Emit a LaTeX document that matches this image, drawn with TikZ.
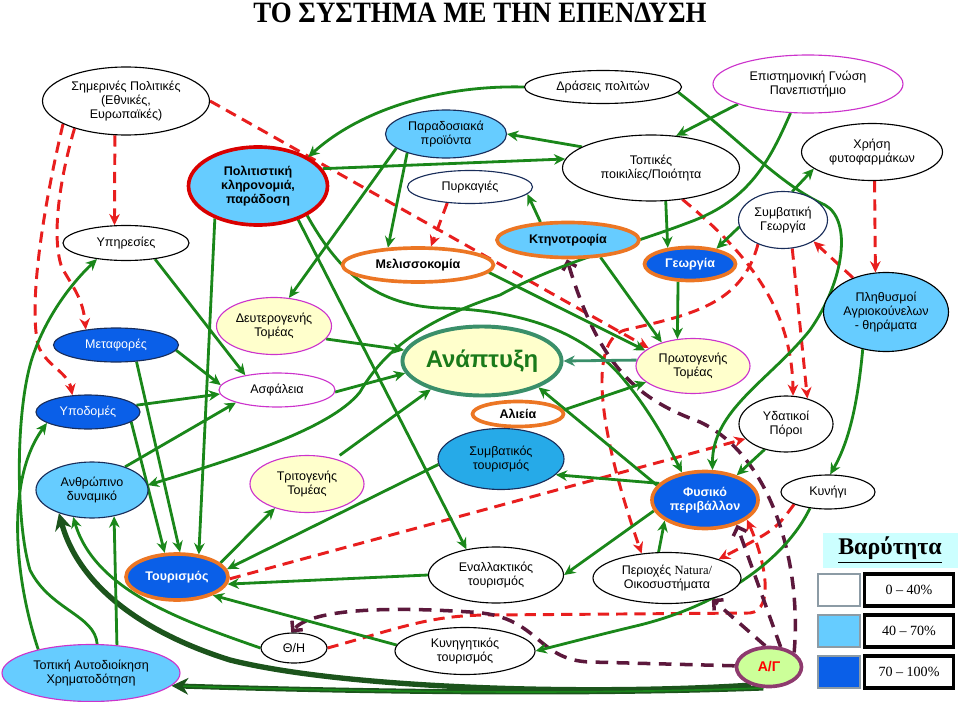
\documentclass[tikz,border=0pt]{standalone}
\usepackage{fontspec}
\setmainfont{Liberation Serif}
\setsansfont{Liberation Sans}
\usetikzlibrary{shapes.geometric,arrows.meta,backgrounds}

\definecolor{grn}{RGB}{26,135,26}
\definecolor{dgrn}{RGB}{28,84,28}
\definecolor{rdash}{RGB}{232,30,30}
\definecolor{purp}{RGB}{92,24,60}
\definecolor{sky}{RGB}{102,204,255}
\definecolor{deepsky}{RGB}{38,170,232}
\definecolor{royal}{RGB}{10,95,232}
\definecolor{navy}{RGB}{25,45,90}
\definecolor{orng}{RGB}{236,118,36}
\definecolor{cream}{RGB}{255,255,204}
\definecolor{mgnt}{RGB}{204,51,204}
\definecolor{anacol}{RGB}{58,143,106}
\definecolor{anatext}{RGB}{26,122,26}
\definecolor{agfill}{RGB}{204,255,153}
\definecolor{agdraw}{RGB}{142,58,110}
\definecolor{legcyan}{RGB}{204,255,255}
\definecolor{swgray}{RGB}{140,155,165}

\newcommand*{\pxu}{0.025cm}

\begin{document}
\begin{tikzpicture}
[
	x=\pxu, y=-\pxu,
	ell/.style={ellipse,draw=black,line width=0.8pt,fill=white,inner sep=0pt,align=center,font=\sffamily\fontsize{8.9}{10}\selectfont},
	sz/.style 2 args={minimum width=#1*\pxu,minimum height=#2*\pxu},
	skyell/.style={ell,fill=sky,draw=navy},
	blueell/.style={ell,fill=royal,draw=navy,text=white},
	creamell/.style={ell,fill=cream,draw=mgnt},
	ringorng/.style={draw=orng,line width=2.6pt,font=\sffamily\bfseries\fontsize{8.9}{10}\selectfont},
	grnarr/.style={draw=grn,line width=2pt,-{Stealth[length=8pt,width=7.5pt]}},
	thickarr/.style={draw=dgrn,line width=3.8pt,-{Stealth[length=12pt,width=12pt]}},
	dblarr/.style={draw=dgrn,double=grn,double distance=1.2pt,line width=1.2pt,-{Stealth[length=12pt,width=12pt]}},
	reddash/.style={draw=rdash,line width=2.1pt,dash pattern=on 8pt off 5pt,-{Stealth[length=8pt,width=7.5pt]}},
	purpdash/.style={draw=purp,line width=2.5pt,dash pattern=on 9pt off 6pt,-{Straight Barb[length=5pt,width=10pt]}},
	swatch/.style={draw=swgray,line width=2pt,minimum width=42*\pxu,minimum height=32*\pxu,inner sep=0pt},
	legbox/.style={draw=black,line width=2.4pt,fill=white,minimum width=89*\pxu,minimum height=32*\pxu,inner sep=0pt,font=\rmfamily\fontsize{10}{12}\selectfont}
]

	\useasboundingbox (0,0) rectangle (960,702);

	% title
	\node (title) at (480,13) {\fontsize{21}{24}\selectfont\bfseries\scalebox{0.91}[1]{ΤΟ ΣΥΣΤΗΜΑ ΜΕ ΤΗΝ ΕΠΕΝΔΥΣΗ}};

	% top rows
	\node[ell,sz={167}{68}] (pol) at (126,101) {Σημερινές Πολιτικές\\(Εθνικές,\\Ευρωπαϊκές)};
	\node[ell,sz={126}{35}] (ypi) at (126,243) {Υπηρεσίες};
	\node[skyell,draw=red!85!black,line width=2.6pt,font=\sffamily\bfseries\fontsize{8.9}{10}\selectfont,sz={139}{78}] (pk) at (258,186) {Πολιτιστική\\κληρονομιά,\\παράδοση};
	\node[skyell,sz={121}{48}] (par) at (446,134) {Παραδοσιακά\\προϊόντα};
	\node[ell,draw=navy,sz={125}{33}] (pyr) at (470,187) {Πυρκαγιές};
	\node[ell,sz={157}{33}] (dra) at (603,87) {Δράσεις πολιτών};
	\node[ell,draw=mgnt,sz={190}{58}] (epi) at (808,84) {Επιστημονική Γνώση\\Πανεπιστήμιο};
	\node[ell,sz={177}{66}] (top) at (651,168) {Τοπικές\\ποικιλίες/Ποιότητα};
	\node[ell,sz={141}{57}] (xri) at (872,152) {Χρήση\\φυτοφαρμάκων};
	\node[ell,draw=navy,sz={89}{57}] (sge) at (783,220) {Συμβατική\\Γεωργία};
	\node[skyell,ringorng,sz={142}{35}] (ktn) at (568,240) {Κτηνοτροφία};
	\node[ell,ringorng,sz={151}{34}] (mel) at (418,265) {Μελισσοκομία};
	\node[blueell,ringorng,sz={91}{33}] (geo) at (690,264) {Γεωργία};
	\node[skyell,draw=black,sz={125}{79}] (plh) at (886,312) {Πληθυσμοί\\Αγριοκούνελων\\- θηράματα};

	% middle rows
	\node[blueell,sz={125}{34}] (met) at (116,345) {Μεταφορές};
	\node[creamell,sz={115}{57}] (deu) at (274,326) {Δευτερογενής\\Τομέας};
	\node[ell,draw=mgnt,sz={116}{34}] (asf) at (277,390) {Ασφάλεια};
	\node[ell,fill=cream,draw=anacol,line width=2.8pt,text=anatext,font=\sffamily\bfseries\fontsize{17}{20}\selectfont,sz={157}{69}] (ana) at (482,361) {Ανάπτυξη};
	\node[creamell,sz={114}{55}] (prw) at (693,366) {Πρωτογενής\\Τομέας};
	\node[blueell,sz={104}{34}] (ypo) at (88,412) {Υποδομές};
	\node[ell,ringorng,sz={91}{25}] (ali) at (518,414) {Αλιεία};
	\node[ell,fill=deepsky,draw=navy,sz={126}{61}] (stu) at (501,459) {Συμβατικός\\τουρισμός};
	\node[ell,sz={94}{56}] (yda) at (786,424) {Υδατικοί\\Πόροι};
	\node[skyell,sz={112}{56}] (anth) at (92,490) {Ανθρώπινο\\δυναμικό};
	\node[creamell,sz={114}{57}] (tri) at (307,484) {Τριτογενής\\Τομέας};
	\node[blueell,ringorng,sz={106}{57}] (fys) at (705,500) {Φυσικό\\περιβάλλον};
	\node[ell,sz={94}{34}] (kyn) at (828,492) {Κυνήγι};

	% bottom rows
	\node[blueell,ringorng,sz={102}{46}] (tou) at (177,577) {Τουρισμός};
	\node[ell,sz={135}{56}] (ena) at (496,575) {Εναλλακτικός\\τουρισμός};
	\node[ell,sz={148}{51}] (nat) at (667,578) {Περιοχές {\rmfamily Natura/}\\Οικοσυστήματα};
	\node[skyell,draw=mgnt,sz={178}{57}] (ota) at (91,673) {Τοπική Αυτοδιοίκηση\\Χρηματοδότηση};
	\node[ell,sz={66}{30}] (thi) at (294,648) {Θ/Η};
	\node[ell,sz={140}{47}] (kyt) at (465,651) {Κυνηγητικός\\τουρισμός};
	\node[ell,fill=agfill,draw=agdraw,line width=2.6pt,text=red,font=\sffamily\bfseries\fontsize{10}{12}\selectfont,sz={65}{39}] (ag) at (769,667) {Α/Γ};

	% legend
	\node[fill=legcyan,minimum width=135*\pxu,minimum height=35*\pxu,inner sep=0pt,font=\rmfamily\bfseries\fontsize{17}{20}\selectfont] (leg) at (890,550) {\underline{Βαρύτητα}};
	\node[swatch,fill=white] (sw1) at (839,590) {};
	\node[legbox] (lb1) at (909,590) {0 – 40\%};
	\node[swatch,fill=sky] (sw2) at (839,631) {};
	\node[legbox] (lb2) at (909,631) {40 – 70\%};
	\node[swatch,fill=royal] (sw3) at (839,672) {};
	\node[legbox] (lb3) at (909,672) {70 – 100\%};

	\begin{scope}[on background layer]

	% red dashed links
	\draw[reddash] (pol.252) -- (ypi.123);
	\draw[reddash] (pol.208) .. controls (62,170) and (50,235) .. (62,268) .. controls (75,290) and (83,300) .. (met.153);
	\draw[reddash] (pol.200) .. controls (45,200) and (28,300) .. (38,345) .. controls (45,365) and (68,372) .. (ypo.133);
	\draw[reddash] (pol.east) -- (prw.158);
	\draw[reddash] (pyr.215) -- (mel.55);
	\draw[reddash] (sge.224) .. controls (742,305) and (690,315) .. (625,330) .. controls (590,340) and (595,420) .. (nat.136);
	\draw[reddash] (xri.275) -- (plh.105);
	\draw[reddash] (plh.134) -- (sge.325);
	\draw[reddash] (top.315) .. controls (750,255) and (792,310) .. (yda.76);
	\draw[reddash] (sge.288) -- (yda.50);
	\draw[reddash] (kyn.200) .. controls (775,530) .. (nat.20);
	\draw[reddash] (thi.east) .. controls (400,628) and (430,615) .. (490,615) -- (750,613) .. controls (775,610) and (765,560) .. (fys.335);
	\draw[reddash] (tou.358) -- (yda.200);

	% purple dashed links
	\draw[purpdash] (ag.30) .. controls (802,560) and (770,455) .. (700,422) .. controls (640,400) and (600,370) .. (ktn.267);
	\draw[purpdash] (ag.60) -- (fys.322);
	\draw[purpdash] (ag.100) -- (nat.335);
	\draw[purpdash] (ag.178) -- (590,662) .. controls (535,660) and (540,615) .. (470,612) .. controls (380,606) and (310,610) .. (thi.100);

	% green links
	\draw[grnarr] (dra.west) .. controls (440,85) and (360,110) .. (pk.30);
	\draw[grnarr] (pk.15) -- (top.174);
	\draw[grnarr] (top.163) -- (par.east);
	\draw[grnarr] (epi.196) -- (top.52);
	\draw[grnarr] (epi.239) .. controls (770,160) and (750,200) .. (690,222) .. controls (630,245) and (560,262) .. (500,295) .. controls (440,315) and (390,340) .. (360,392) .. controls (330,430) and (230,460) .. (anth.5);
	\draw[grnarr] (dra.356) .. controls (740,140) and (780,185) .. (825,205) .. controls (852,220) and (845,280) .. (810,330) .. controls (770,380) and (712,410) .. (fys.76);
	\draw[grnarr] (par.206) -- (mel.150);
	\draw[grnarr] (par.196) -- (deu.62);
	\draw[grnarr] (ktn.147) -- (pyr.353);
	\draw[grnarr] (pk.217) -- (tou.46);
	\draw[grnarr] (pk.320) -- (ena.139);
	\draw[grnarr] (pk.329) .. controls (335,265) and (370,305) .. (440,308) .. controls (520,310) and (580,330) .. (620,375) .. controls (650,410) and (668,445) .. (fys.130);
	\draw[grnarr] (fys.163) -- (ana.335);
	\draw[grnarr] (mel.354) -- (prw.162);
	\draw[grnarr] (ktn.332) -- (prw.143);
	\draw[grnarr] (top.294) -- (geo.144);
	\draw[grnarr] (sge.189) -- (geo.30);
	\draw[grnarr] (sge.72) -- (xri.196);
	\draw[grnarr] (geo.236) -- (prw.120);
	\draw[grnarr,draw=anacol] (prw.174) -- (ana.east);
	\draw[grnarr] (plh.238) .. controls (858,400) and (850,440) .. (kyn.83);
	\draw[grnarr] (yda.230) -- (fys.38);
	\draw[grnarr] (kyn.222) .. controls (785,560) and (720,605) .. (640,625) .. controls (590,637) and (560,645) .. (kyt.east);
	\draw[grnarr] (fys.192) -- (ena.east);
	\draw[grnarr] (nat.108) -- (fys.207);
	\draw[grnarr] (fys.160) -- (stu.344);
	\draw[grnarr] (ali.5) -- (prw.199);
	\draw[grnarr] (stu.185) -- (tou.9);
	\draw[grnarr] (ena.west) -- (tou.352);
	\draw[grnarr] (kyt.175) -- (tou.333);
	\draw[grnarr] (thi.west) .. controls (180,620) and (95,590) .. (anth.235);
	\draw[thickarr] (ag.225) .. controls (600,695) and (350,690) .. (230,660) .. controls (150,635) and (80,590) .. (anth.215);
	\draw[dblarr] (ag.255) .. controls (600,694) and (400,693) .. (ota.351);
	\draw[grnarr] (ota.156) .. controls (15,580) and (5,480) .. (ypo.195);
	\draw[grnarr] (ota.78) .. controls (95,615) and (50,610) .. (30,570) .. controls (15,520) and (15,400) .. (35,350) .. controls (50,310) and (75,280) .. (ypi.209);
	\draw[grnarr] (ota.47) -- (anth.310);
	\draw[grnarr] (ypo.8) -- (asf.184);
	\draw[grnarr] (anth.35) -- (asf.197);
	\draw[grnarr] (ypo.347) -- (tou.117);
	\draw[grnarr] (met.321) -- (tou.83);
	\draw[grnarr] (met.355) -- (asf.175);
	\draw[grnarr] (ypi.331) -- (asf.155);
	\draw[grnarr] (asf.358) -- (ana.189);
	\draw[grnarr] (deu.346) -- (ana.172);
	\draw[grnarr,shorten <=4pt] (tri.42) -- (ana.209);
	\draw[grnarr] (tou.18) -- (tri.217);

	\end{scope}

\end{tikzpicture}
\end{document}
